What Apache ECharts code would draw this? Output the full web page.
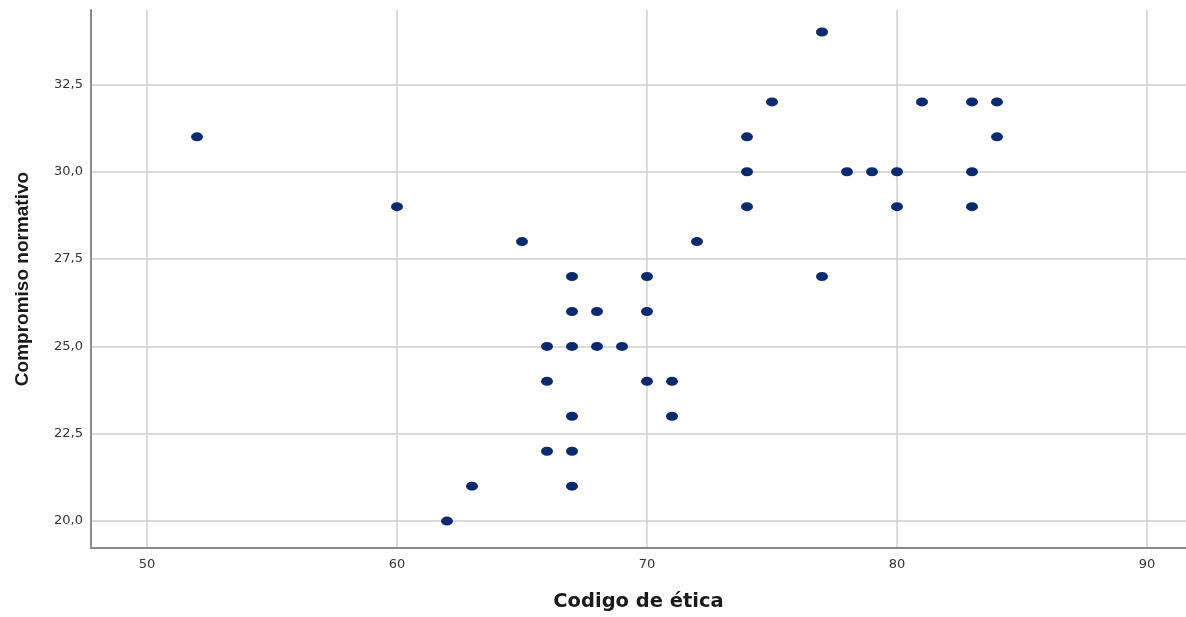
<!DOCTYPE html>
<html>
<head>
<meta charset="utf-8">
<script src="https://cdn.jsdelivr.net/npm/echarts@6/dist/echarts.min.js"></script>
<style>
html,body{margin:0;padding:0;background:#fff;}
#c{width:1186px;height:617px;}
</style>
</head>
<body>
<div id="c"></div>
<script>
const codigoEtica = [52,60,65,62,63,66,66,66,67,67,67,67,67,67,68,68,69,70,70,70,71,71,72,74,74,74,75,77,77,78,79,80,80,81,83,83,83,84,84];
const compromisoNormativo = [31,29,28,20,21,25,24,22,27,26,25,23,22,21,26,25,25,27,26,24,24,23,28,31,30,29,32,34,27,30,30,30,29,32,32,30,29,32,31];
const xTicks = [50,60,70,80,90];
const yTicks = [20,22.5,25,27.5,30,32.5];

const points = codigoEtica.map((x,i)=>[x, compromisoNormativo[i]]);
const chart = echarts.init(document.getElementById('c'));
const tickFont = 'DejaVu Sans, sans-serif';
chart.setOption({
  animation:false,
  grid:{left:91, right:0, top:10, bottom:64, containLabel:false},
  xAxis:{
    type:'value', min:47.76, max:91.56,
    name:'Codigo de ética', nameLocation:'middle', nameGap:44,
    nameTextStyle:{fontFamily:'DejaVu Sans', fontSize:19.5, fontWeight:'bold', color:'#1a1a1a'},
    axisLine:{show:true, onZero:false, lineStyle:{color:'#8a8a8a', width:2}},
    axisTick:{show:false, customValues:xTicks},
    axisLabel:{customValues:xTicks, margin:10, fontFamily:tickFont, fontSize:13, color:'#333'},
    splitLine:{show:true, lineStyle:{color:'#cfcfcf', width:1.5}}
  },
  yAxis:{
    type:'value', min:19.23, max:34.63,
    name:'Compromiso normativo', nameLocation:'middle', nameGap:59, nameRotate:90,
    nameTextStyle:{fontFamily:'Liberation Sans, Arial, sans-serif', fontSize:19, fontWeight:'bold', color:'#1a1a1a'},
    axisLine:{show:true, onZero:false, lineStyle:{color:'#8a8a8a', width:2}},
    axisTick:{show:false, customValues:yTicks},
    axisLabel:{customValues:yTicks, margin:8, fontFamily:tickFont, fontSize:13, color:'#333',
      formatter:v=>v.toFixed(1).replace('.',',')},
    splitLine:{show:true, lineStyle:{color:'#cfcfcf', width:1.5}}
  },
  series:[{
    type:'scatter', data:points, symbol:'circle', symbolSize:[12,9],
    itemStyle:{color:'#0b2a6e', opacity:1}
  }]
});
</script>
</body>
</html>
